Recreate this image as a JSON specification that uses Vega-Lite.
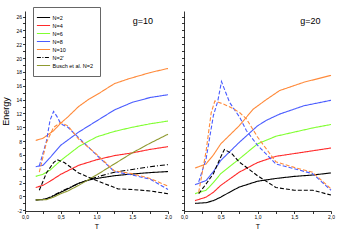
{
  "$schema": "https://vega.github.io/schema/vega-lite/v6.json",
  "padding": {"left": 1, "top": 6, "right": 2, "bottom": 2},
  "background": "white",
  "spacing": 16,
  "bounds": "flush",
  "config": {
    "font": "Liberation Sans",
    "view": {"stroke": null},
    "axis": {"grid": false, "labelFontSize": 5, "labelColor": "black", "domainColor": "black", "tickColor": "black", "tickSize": 2.5, "labelPadding": 1, "titleFontWeight": "normal", "titleColor": "black", "labelOverlap": false, "labelFlush": false, "labelBound": false, "domainWidth": 0.8, "tickWidth": 0.8}
  },
  "datasets": {
    "curves": [
      {"p": "g10", "s": "N=2", "d": "solid", "T": 0.15, "E": -0.5},
      {"p": "g10", "s": "N=2", "d": "solid", "T": 0.25, "E": -0.45},
      {"p": "g10", "s": "N=2", "d": "solid", "T": 0.35, "E": -0.15},
      {"p": "g10", "s": "N=2", "d": "solid", "T": 0.5, "E": 0.6},
      {"p": "g10", "s": "N=2", "d": "solid", "T": 0.6, "E": 1.1},
      {"p": "g10", "s": "N=2", "d": "solid", "T": 0.75, "E": 1.9},
      {"p": "g10", "s": "N=2", "d": "solid", "T": 0.9, "E": 2.4},
      {"p": "g10", "s": "N=2", "d": "solid", "T": 1.0, "E": 2.6},
      {"p": "g10", "s": "N=2", "d": "solid", "T": 1.25, "E": 3.0},
      {"p": "g10", "s": "N=2", "d": "solid", "T": 1.5, "E": 3.25},
      {"p": "g10", "s": "N=2", "d": "solid", "T": 1.75, "E": 3.45},
      {"p": "g10", "s": "N=2", "d": "solid", "T": 2.0, "E": 3.6},

      {"p": "g10", "s": "N=4", "d": "solid", "T": 0.15, "E": 1.3},
      {"p": "g10", "s": "N=4", "d": "solid", "T": 0.25, "E": 1.6},
      {"p": "g10", "s": "N=4", "d": "solid", "T": 0.35, "E": 2.2},
      {"p": "g10", "s": "N=4", "d": "solid", "T": 0.5, "E": 3.2},
      {"p": "g10", "s": "N=4", "d": "solid", "T": 0.75, "E": 4.5},
      {"p": "g10", "s": "N=4", "d": "solid", "T": 1.0, "E": 5.3},
      {"p": "g10", "s": "N=4", "d": "solid", "T": 1.25, "E": 5.9},
      {"p": "g10", "s": "N=4", "d": "solid", "T": 1.5, "E": 6.3},
      {"p": "g10", "s": "N=4", "d": "solid", "T": 1.75, "E": 6.8},
      {"p": "g10", "s": "N=4", "d": "solid", "T": 2.0, "E": 7.2},

      {"p": "g10", "s": "N=6", "d": "solid", "T": 0.15, "E": 2.9},
      {"p": "g10", "s": "N=6", "d": "solid", "T": 0.25, "E": 3.2},
      {"p": "g10", "s": "N=6", "d": "solid", "T": 0.35, "E": 3.8},
      {"p": "g10", "s": "N=6", "d": "solid", "T": 0.5, "E": 5.2},
      {"p": "g10", "s": "N=6", "d": "solid", "T": 0.75, "E": 7.2},
      {"p": "g10", "s": "N=6", "d": "solid", "T": 1.0, "E": 8.6},
      {"p": "g10", "s": "N=6", "d": "solid", "T": 1.25, "E": 9.4},
      {"p": "g10", "s": "N=6", "d": "solid", "T": 1.5, "E": 10.0},
      {"p": "g10", "s": "N=6", "d": "solid", "T": 1.75, "E": 10.5},
      {"p": "g10", "s": "N=6", "d": "solid", "T": 2.0, "E": 10.9},

      {"p": "g10", "s": "N=8", "d": "solid", "T": 0.15, "E": 4.3},
      {"p": "g10", "s": "N=8", "d": "solid", "T": 0.25, "E": 4.5},
      {"p": "g10", "s": "N=8", "d": "solid", "T": 0.35, "E": 5.6},
      {"p": "g10", "s": "N=8", "d": "solid", "T": 0.5, "E": 7.4},
      {"p": "g10", "s": "N=8", "d": "solid", "T": 0.75, "E": 9.3},
      {"p": "g10", "s": "N=8", "d": "solid", "T": 1.0, "E": 10.9},
      {"p": "g10", "s": "N=8", "d": "solid", "T": 1.25, "E": 12.5},
      {"p": "g10", "s": "N=8", "d": "solid", "T": 1.5, "E": 13.6},
      {"p": "g10", "s": "N=8", "d": "solid", "T": 1.75, "E": 14.3},
      {"p": "g10", "s": "N=8", "d": "solid", "T": 2.0, "E": 14.7},

      {"p": "g10", "s": "N=10", "d": "solid", "T": 0.15, "E": 8.1},
      {"p": "g10", "s": "N=10", "d": "solid", "T": 0.25, "E": 8.4},
      {"p": "g10", "s": "N=10", "d": "solid", "T": 0.4, "E": 9.5},
      {"p": "g10", "s": "N=10", "d": "solid", "T": 0.5, "E": 10.6},
      {"p": "g10", "s": "N=10", "d": "solid", "T": 0.6, "E": 11.5},
      {"p": "g10", "s": "N=10", "d": "solid", "T": 0.75, "E": 13.0},
      {"p": "g10", "s": "N=10", "d": "solid", "T": 0.9, "E": 14.1},
      {"p": "g10", "s": "N=10", "d": "solid", "T": 1.05, "E": 15.0},
      {"p": "g10", "s": "N=10", "d": "solid", "T": 1.25, "E": 16.3},
      {"p": "g10", "s": "N=10", "d": "solid", "T": 1.45, "E": 17.0},
      {"p": "g10", "s": "N=10", "d": "solid", "T": 1.75, "E": 17.9},
      {"p": "g10", "s": "N=10", "d": "solid", "T": 2.0, "E": 18.5},

      {"p": "g10", "s": "N=2'", "d": "dashdot", "T": 0.15, "E": -0.5},
      {"p": "g10", "s": "N=2'", "d": "dashdot", "T": 0.3, "E": -0.35},
      {"p": "g10", "s": "N=2'", "d": "dashdot", "T": 0.5, "E": 0.7},
      {"p": "g10", "s": "N=2'", "d": "dashdot", "T": 0.75, "E": 1.9},
      {"p": "g10", "s": "N=2'", "d": "dashdot", "T": 1.0, "E": 2.8},
      {"p": "g10", "s": "N=2'", "d": "dashdot", "T": 1.25, "E": 3.5},
      {"p": "g10", "s": "N=2'", "d": "dashdot", "T": 1.5, "E": 3.9},
      {"p": "g10", "s": "N=2'", "d": "dashdot", "T": 1.75, "E": 4.3},
      {"p": "g10", "s": "N=2'", "d": "dashdot", "T": 2.0, "E": 4.6},

      {"p": "g10", "s": "Busch et al. N=2", "d": "solid", "T": 0.15, "E": -0.5},
      {"p": "g10", "s": "Busch et al. N=2", "d": "solid", "T": 0.3, "E": -0.45},
      {"p": "g10", "s": "Busch et al. N=2", "d": "solid", "T": 0.4, "E": -0.1},
      {"p": "g10", "s": "Busch et al. N=2", "d": "solid", "T": 0.5, "E": 0.4},
      {"p": "g10", "s": "Busch et al. N=2", "d": "solid", "T": 0.6, "E": 0.8},
      {"p": "g10", "s": "Busch et al. N=2", "d": "solid", "T": 0.75, "E": 1.6},
      {"p": "g10", "s": "Busch et al. N=2", "d": "solid", "T": 1.0, "E": 3.1},
      {"p": "g10", "s": "Busch et al. N=2", "d": "solid", "T": 1.25, "E": 4.7},
      {"p": "g10", "s": "Busch et al. N=2", "d": "solid", "T": 1.5, "E": 6.3},
      {"p": "g10", "s": "Busch et al. N=2", "d": "solid", "T": 1.75, "E": 7.7},
      {"p": "g10", "s": "Busch et al. N=2", "d": "solid", "T": 2.0, "E": 9.0},

      {"p": "g10", "s": "N=2", "d": "dashed", "T": 0.2, "E": 0.9},
      {"p": "g10", "s": "N=2", "d": "dashed", "T": 0.3, "E": 3.4},
      {"p": "g10", "s": "N=2", "d": "dashed", "T": 0.4, "E": 4.9},
      {"p": "g10", "s": "N=2", "d": "dashed", "T": 0.45, "E": 5.3},
      {"p": "g10", "s": "N=2", "d": "dashed", "T": 0.55, "E": 4.9},
      {"p": "g10", "s": "N=2", "d": "dashed", "T": 0.75, "E": 3.4},
      {"p": "g10", "s": "N=2", "d": "dashed", "T": 1.0, "E": 2.3},
      {"p": "g10", "s": "N=2", "d": "dashed", "T": 1.3, "E": 1.1},
      {"p": "g10", "s": "N=2", "d": "dashed", "T": 1.5, "E": 1.0},
      {"p": "g10", "s": "N=2", "d": "dashed", "T": 1.75, "E": 0.8},
      {"p": "g10", "s": "N=2", "d": "dashed", "T": 2.0, "E": 0.4},

      {"p": "g10", "s": "N=8", "d": "dashed", "T": 0.2, "E": 4.4},
      {"p": "g10", "s": "N=8", "d": "dashed", "T": 0.3, "E": 8.0},
      {"p": "g10", "s": "N=8", "d": "dashed", "T": 0.35, "E": 11.0},
      {"p": "g10", "s": "N=8", "d": "dashed", "T": 0.4, "E": 12.3},
      {"p": "g10", "s": "N=8", "d": "dashed", "T": 0.45, "E": 11.5},
      {"p": "g10", "s": "N=8", "d": "dashed", "T": 0.5, "E": 10.5},
      {"p": "g10", "s": "N=8", "d": "dashed", "T": 0.6, "E": 10.0},
      {"p": "g10", "s": "N=8", "d": "dashed", "T": 0.75, "E": 8.5},
      {"p": "g10", "s": "N=8", "d": "dashed", "T": 1.0, "E": 6.0},
      {"p": "g10", "s": "N=8", "d": "dashed", "T": 1.25, "E": 3.6},
      {"p": "g10", "s": "N=8", "d": "dashed", "T": 1.5, "E": 3.1},
      {"p": "g10", "s": "N=8", "d": "dashed", "T": 1.75, "E": 2.5},
      {"p": "g10", "s": "N=8", "d": "dashed", "T": 2.0, "E": 1.0},

      {"p": "g10", "s": "N=10", "d": "dashed", "T": 0.2, "E": 3.5},
      {"p": "g10", "s": "N=10", "d": "dashed", "T": 0.3, "E": 7.8},
      {"p": "g10", "s": "N=10", "d": "dashed", "T": 0.4, "E": 10.0},
      {"p": "g10", "s": "N=10", "d": "dashed", "T": 0.5, "E": 10.7},
      {"p": "g10", "s": "N=10", "d": "dashed", "T": 0.6, "E": 10.2},
      {"p": "g10", "s": "N=10", "d": "dashed", "T": 0.75, "E": 8.3},
      {"p": "g10", "s": "N=10", "d": "dashed", "T": 1.0, "E": 6.1},
      {"p": "g10", "s": "N=10", "d": "dashed", "T": 1.25, "E": 3.7},
      {"p": "g10", "s": "N=10", "d": "dashed", "T": 1.5, "E": 3.3},
      {"p": "g10", "s": "N=10", "d": "dashed", "T": 1.75, "E": 2.6},
      {"p": "g10", "s": "N=10", "d": "dashed", "T": 2.0, "E": 1.5},

      {"p": "g20", "s": "N=2", "d": "solid", "T": 0.15, "E": -1.0},
      {"p": "g20", "s": "N=2", "d": "solid", "T": 0.3, "E": -0.9},
      {"p": "g20", "s": "N=2", "d": "solid", "T": 0.4, "E": -0.6},
      {"p": "g20", "s": "N=2", "d": "solid", "T": 0.5, "E": -0.1},
      {"p": "g20", "s": "N=2", "d": "solid", "T": 0.6, "E": 0.5},
      {"p": "g20", "s": "N=2", "d": "solid", "T": 0.75, "E": 1.35},
      {"p": "g20", "s": "N=2", "d": "solid", "T": 1.0, "E": 2.2},
      {"p": "g20", "s": "N=2", "d": "solid", "T": 1.25, "E": 2.6},
      {"p": "g20", "s": "N=2", "d": "solid", "T": 1.5, "E": 2.9},
      {"p": "g20", "s": "N=2", "d": "solid", "T": 1.75, "E": 3.1},
      {"p": "g20", "s": "N=2", "d": "solid", "T": 2.0, "E": 3.4},

      {"p": "g20", "s": "N=4", "d": "solid", "T": 0.15, "E": -0.6},
      {"p": "g20", "s": "N=4", "d": "solid", "T": 0.3, "E": -0.1},
      {"p": "g20", "s": "N=4", "d": "solid", "T": 0.4, "E": 0.6},
      {"p": "g20", "s": "N=4", "d": "solid", "T": 0.5, "E": 1.6},
      {"p": "g20", "s": "N=4", "d": "solid", "T": 0.75, "E": 3.5},
      {"p": "g20", "s": "N=4", "d": "solid", "T": 1.0, "E": 4.9},
      {"p": "g20", "s": "N=4", "d": "solid", "T": 1.25, "E": 5.8},
      {"p": "g20", "s": "N=4", "d": "solid", "T": 1.5, "E": 6.2},
      {"p": "g20", "s": "N=4", "d": "solid", "T": 1.75, "E": 6.6},
      {"p": "g20", "s": "N=4", "d": "solid", "T": 2.0, "E": 7.0},

      {"p": "g20", "s": "N=6", "d": "solid", "T": 0.15, "E": 0.4},
      {"p": "g20", "s": "N=6", "d": "solid", "T": 0.3, "E": 0.9},
      {"p": "g20", "s": "N=6", "d": "solid", "T": 0.4, "E": 2.0},
      {"p": "g20", "s": "N=6", "d": "solid", "T": 0.5, "E": 3.3},
      {"p": "g20", "s": "N=6", "d": "solid", "T": 0.75, "E": 5.4},
      {"p": "g20", "s": "N=6", "d": "solid", "T": 1.0, "E": 7.6},
      {"p": "g20", "s": "N=6", "d": "solid", "T": 1.25, "E": 8.7},
      {"p": "g20", "s": "N=6", "d": "solid", "T": 1.5, "E": 9.3},
      {"p": "g20", "s": "N=6", "d": "solid", "T": 1.75, "E": 9.9},
      {"p": "g20", "s": "N=6", "d": "solid", "T": 2.0, "E": 10.4},

      {"p": "g20", "s": "N=8", "d": "solid", "T": 0.15, "E": 1.7},
      {"p": "g20", "s": "N=8", "d": "solid", "T": 0.3, "E": 2.3},
      {"p": "g20", "s": "N=8", "d": "solid", "T": 0.4, "E": 3.6},
      {"p": "g20", "s": "N=8", "d": "solid", "T": 0.5, "E": 5.2},
      {"p": "g20", "s": "N=8", "d": "solid", "T": 0.75, "E": 7.8},
      {"p": "g20", "s": "N=8", "d": "solid", "T": 1.0, "E": 10.2},
      {"p": "g20", "s": "N=8", "d": "solid", "T": 1.12, "E": 11.0},
      {"p": "g20", "s": "N=8", "d": "solid", "T": 1.3, "E": 11.9},
      {"p": "g20", "s": "N=8", "d": "solid", "T": 1.63, "E": 13.1},
      {"p": "g20", "s": "N=8", "d": "solid", "T": 2.0, "E": 13.9},

      {"p": "g20", "s": "N=10", "d": "solid", "T": 0.15, "E": 4.1},
      {"p": "g20", "s": "N=10", "d": "solid", "T": 0.3, "E": 4.7},
      {"p": "g20", "s": "N=10", "d": "solid", "T": 0.4, "E": 6.0},
      {"p": "g20", "s": "N=10", "d": "solid", "T": 0.5, "E": 7.6},
      {"p": "g20", "s": "N=10", "d": "solid", "T": 0.75, "E": 10.2},
      {"p": "g20", "s": "N=10", "d": "solid", "T": 0.94, "E": 12.6},
      {"p": "g20", "s": "N=10", "d": "solid", "T": 1.12, "E": 14.0},
      {"p": "g20", "s": "N=10", "d": "solid", "T": 1.3, "E": 15.3},
      {"p": "g20", "s": "N=10", "d": "solid", "T": 1.63, "E": 16.5},
      {"p": "g20", "s": "N=10", "d": "solid", "T": 2.0, "E": 17.5},

      {"p": "g20", "s": "N=2", "d": "dashed", "T": 0.2, "E": 0.4},
      {"p": "g20", "s": "N=2", "d": "dashed", "T": 0.3, "E": 1.8},
      {"p": "g20", "s": "N=2", "d": "dashed", "T": 0.4, "E": 3.3},
      {"p": "g20", "s": "N=2", "d": "dashed", "T": 0.5, "E": 5.7},
      {"p": "g20", "s": "N=2", "d": "dashed", "T": 0.55, "E": 6.8},
      {"p": "g20", "s": "N=2", "d": "dashed", "T": 0.65, "E": 6.2},
      {"p": "g20", "s": "N=2", "d": "dashed", "T": 0.75, "E": 5.0},
      {"p": "g20", "s": "N=2", "d": "dashed", "T": 1.0, "E": 3.0},
      {"p": "g20", "s": "N=2", "d": "dashed", "T": 1.25, "E": 1.3},
      {"p": "g20", "s": "N=2", "d": "dashed", "T": 1.5, "E": 0.9},
      {"p": "g20", "s": "N=2", "d": "dashed", "T": 1.75, "E": 0.9},
      {"p": "g20", "s": "N=2", "d": "dashed", "T": 2.0, "E": 0.2},

      {"p": "g20", "s": "N=8", "d": "dashed", "T": 0.2, "E": 2.1},
      {"p": "g20", "s": "N=8", "d": "dashed", "T": 0.3, "E": 5.4},
      {"p": "g20", "s": "N=8", "d": "dashed", "T": 0.4, "E": 11.7},
      {"p": "g20", "s": "N=8", "d": "dashed", "T": 0.46, "E": 13.8},
      {"p": "g20", "s": "N=8", "d": "dashed", "T": 0.51, "E": 16.6},
      {"p": "g20", "s": "N=8", "d": "dashed", "T": 0.62, "E": 13.6},
      {"p": "g20", "s": "N=8", "d": "dashed", "T": 0.76, "E": 11.4},
      {"p": "g20", "s": "N=8", "d": "dashed", "T": 0.85, "E": 9.5},
      {"p": "g20", "s": "N=8", "d": "dashed", "T": 1.0, "E": 7.4},
      {"p": "g20", "s": "N=8", "d": "dashed", "T": 1.25, "E": 4.7},
      {"p": "g20", "s": "N=8", "d": "dashed", "T": 1.5, "E": 4.0},
      {"p": "g20", "s": "N=8", "d": "dashed", "T": 1.75, "E": 3.3},
      {"p": "g20", "s": "N=8", "d": "dashed", "T": 2.0, "E": 0.9},

      {"p": "g20", "s": "N=10", "d": "dashed", "T": 0.2, "E": 0.6},
      {"p": "g20", "s": "N=10", "d": "dashed", "T": 0.3, "E": 6.5},
      {"p": "g20", "s": "N=10", "d": "dashed", "T": 0.37, "E": 12.1},
      {"p": "g20", "s": "N=10", "d": "dashed", "T": 0.42, "E": 13.8},
      {"p": "g20", "s": "N=10", "d": "dashed", "T": 0.55, "E": 13.3},
      {"p": "g20", "s": "N=10", "d": "dashed", "T": 0.65, "E": 12.8},
      {"p": "g20", "s": "N=10", "d": "dashed", "T": 0.76, "E": 12.1},
      {"p": "g20", "s": "N=10", "d": "dashed", "T": 0.85, "E": 11.2},
      {"p": "g20", "s": "N=10", "d": "dashed", "T": 1.0, "E": 8.6},
      {"p": "g20", "s": "N=10", "d": "dashed", "T": 1.25, "E": 5.0},
      {"p": "g20", "s": "N=10", "d": "dashed", "T": 1.5, "E": 4.2},
      {"p": "g20", "s": "N=10", "d": "dashed", "T": 1.75, "E": 3.5},
      {"p": "g20", "s": "N=10", "d": "dashed", "T": 2.0, "E": 1.1}
    ],
    "notes": [
      {"p": "g10", "label": "g=10", "T": 1.65, "E": 25.3},
      {"p": "g20", "label": "g=20", "T": 1.72, "E": 25.3}
    ]
  },
  "resolve": {"legend": {"color": "independent"}},
  "hconcat": [
    {
      "width": 143,
      "height": 200,
      "encoding": {
        "x": {"field": "T", "type": "quantitative", "scale": {"domain": [0, 2], "nice": false, "zero": false},
          "axis": {"title": "T", "titleFontSize": 7, "titlePadding": 3, "labelOverlap": false, "values": [0, 0.25, 0.5, 0.75, 1, 1.25, 1.5, 1.75, 2],
            "labelExpr": "(datum.value * 2) % 1 == 0 ? replace(format(datum.value, '.1f'), '.', ',') : ''"}},
        "y": {"field": "E", "type": "quantitative", "scale": {"domain": [-2.1, 26.8], "nice": false, "zero": false},
          "axis": {"title": "Energy", "titleFontSize": 9, "titlePadding": 5, "labelOverlap": false, "values": [-2, -1, 0, 1, 2, 3, 4, 5, 6, 7, 8, 9, 10, 11, 12, 13, 14, 15, 16, 17, 18, 19, 20, 21, 22, 23, 24, 25, 26],
            "labelExpr": "datum.value % 2 == 0 ? datum.value : ''"}}
      },
      "layer": [
        {
          "data": {"name": "curves"},
          "transform": [{"filter": "datum.p == 'g10'"}],
          "mark": {"type": "line", "strokeWidth": 1.1},
          "encoding": {
            "color": {"field": "s", "type": "nominal",
              "scale": {"domain": ["N=2", "N=4", "N=6", "N=8", "N=10", "N=2'", "Busch et al. N=2"],
                "range": ["#000000", "#ff2a2a", "#80ff30", "#4a5cff", "#ff8a3a", "#000000", "#8f9a30"]},
              "legend": {"title": null, "orient": "none", "legendX": 8, "legendY": -4, "symbolType": "M-2.2,0H2.2", "symbolSize": 36, "symbolStrokeWidth": 1.2,
                "labelFontSize": 5.5, "labelOffset": 5, "rowPadding": -1.6, "padding": 6.5, "strokeColor": "#666666", "labelColor": "black",
                "encode": {"symbols": {"update": {"strokeDash": {"signal": "datum.value == \"N=2'\" ? [4, 1.5, 1, 1.5] : [1, 0]"}}}}}},
            "strokeDash": {"field": "d", "type": "nominal", "scale": {"domain": ["solid", "dashed", "dashdot"], "range": [[1, 0], [4, 2], [5, 2, 1, 2]]}, "legend": null},
            "detail": {"field": "d"}
          }
        },
        {
          "data": {"name": "notes"},
          "transform": [{"filter": "datum.p == 'g10'"}],
          "mark": {"type": "text", "fontSize": 9, "color": "black"},
          "encoding": {"text": {"field": "label"}}
        }
      ]
    },
    {
      "width": 147,
      "height": 200,
      "encoding": {
        "x": {"field": "T", "type": "quantitative", "scale": {"domain": [0, 2], "nice": false, "zero": false},
          "axis": {"title": "T", "titleFontSize": 7, "titlePadding": 3, "labelOverlap": false, "values": [0, 0.25, 0.5, 0.75, 1, 1.25, 1.5, 1.75, 2],
            "labelExpr": "(datum.value * 2) % 1 == 0 ? replace(format(datum.value, '.1f'), '.', ',') : ''"}},
        "y": {"field": "E", "type": "quantitative", "scale": {"domain": [-2.1, 26.8], "nice": false, "zero": false},
          "axis": {"title": null, "labels": false, "values": [-2, -1, 0, 1, 2, 3, 4, 5, 6, 7, 8, 9, 10, 11, 12, 13, 14, 15, 16, 17, 18, 19, 20, 21, 22, 23, 24, 25, 26]}}
      },
      "layer": [
        {
          "data": {"name": "curves"},
          "transform": [{"filter": "datum.p == 'g20'"}],
          "mark": {"type": "line", "strokeWidth": 1.1},
          "encoding": {
            "color": {"field": "s", "type": "nominal",
              "scale": {"domain": ["N=2", "N=4", "N=6", "N=8", "N=10", "N=2'", "Busch et al. N=2"],
                "range": ["#000000", "#ff2a2a", "#80ff30", "#4a5cff", "#ff8a3a", "#000000", "#8f9a30"]},
              "legend": null},
            "strokeDash": {"field": "d", "type": "nominal", "scale": {"domain": ["solid", "dashed", "dashdot"], "range": [[1, 0], [4, 2], [5, 2, 1, 2]]}, "legend": null},
            "detail": {"field": "d"}
          }
        },
        {
          "data": {"name": "notes"},
          "transform": [{"filter": "datum.p == 'g20'"}],
          "mark": {"type": "text", "fontSize": 9, "color": "black"},
          "encoding": {"text": {"field": "label"}}
        }
      ]
    }
  ]
}
